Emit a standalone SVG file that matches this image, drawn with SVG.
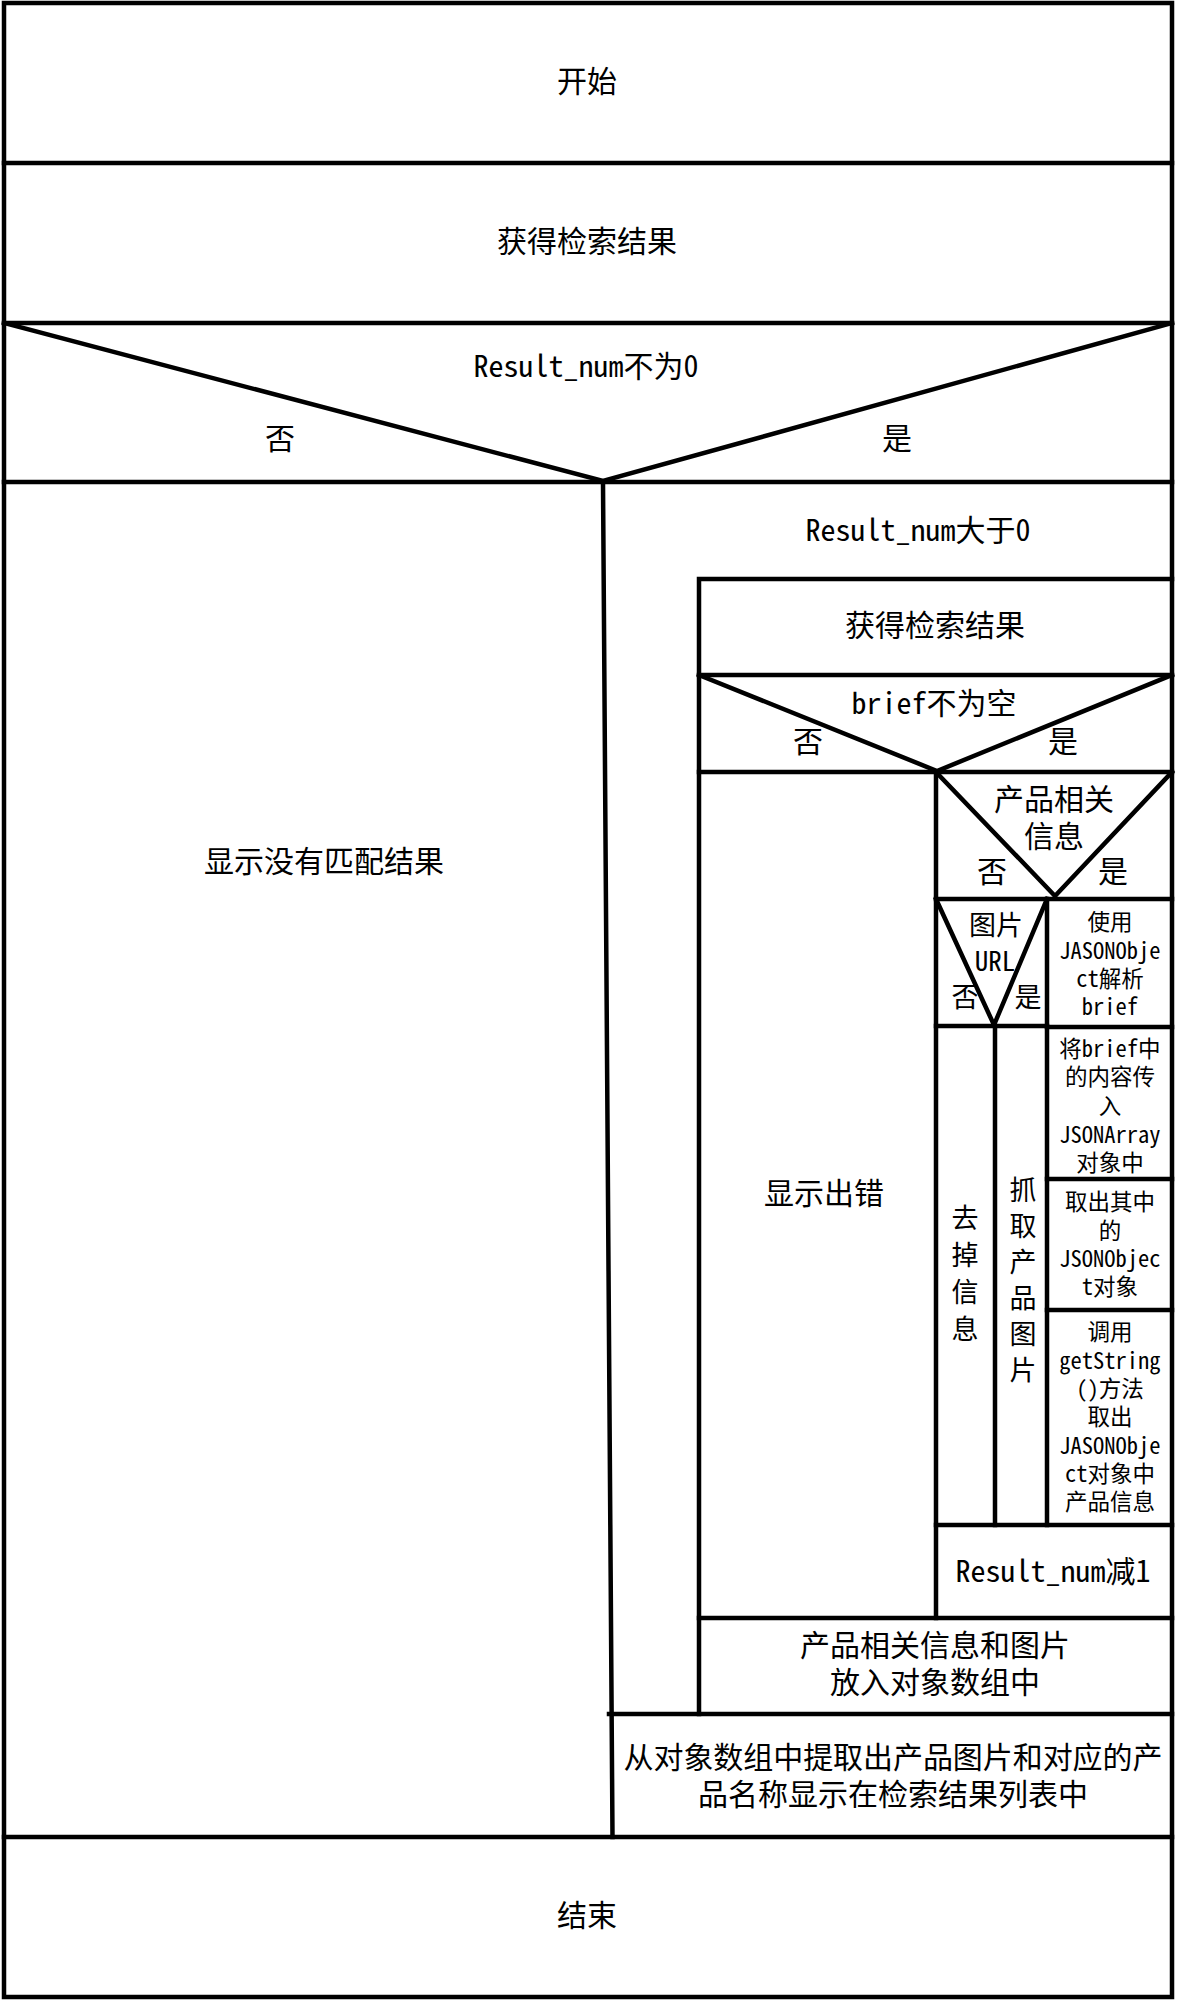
<svg xmlns="http://www.w3.org/2000/svg" width="1179" height="2001" viewBox="0 0 1179 2001">
<style>
.ln{stroke:#000;stroke-width:4.5;fill:none;stroke-linecap:square;stroke-linejoin:miter}
text{font-family:"Noto Sans Mono CJK SC","Noto Sans CJK SC",sans-serif;fill:#000;text-anchor:middle;dominant-baseline:central}
.f30{font-size:30px}
.f27{font-size:27px}
.f23{font-size:22.5px}
</style>
<rect x="0" y="0" width="1179" height="2001" fill="#fff"/>
<g id="frame">
<rect class="ln" x="4" y="3" width="1168" height="1994"/>
</g>
<g id="n-start">
<text class="f30" x="587" y="79">开始</text>
</g>
<g id="n-get1">
<line class="ln" x1="4" y1="163" x2="1172" y2="163"/>
<text class="f30" x="587" y="239">获得检索结果</text>
</g>
<g id="n-dec1">
<line class="ln" x1="4" y1="323" x2="1172" y2="323"/>
<polyline class="ln" points="4,323 603,481 1172,323"/>
<line class="ln" x1="4" y1="482" x2="1172" y2="482"/>
<text class="f30" x="586" y="364">Result_num不为0</text>
<text class="f30" x="280" y="436">否</text>
<text class="f30" x="897" y="436">是</text>
</g>
<g id="n-nomatch">
<line class="ln" x1="603" y1="482" x2="612.5" y2="1837"/>
<text class="f30" x="324" y="859">显示没有匹配结果</text>
</g>
<g id="n-loop">
<text class="f30" x="918" y="528">Result_num大于0</text>
<polyline class="ln" points="1172,579 699,579 699,1714"/>
<line class="ln" x1="609" y1="1714" x2="1172" y2="1714"/>
</g>
<g id="n-get2">
<line class="ln" x1="699" y1="675" x2="1172" y2="675"/>
<text class="f30" x="935" y="623">获得检索结果</text>
</g>
<g id="n-dec2">
<polyline class="ln" points="699,675 937,771 1172,675"/>
<line class="ln" x1="699" y1="772" x2="1172" y2="772"/>
<text class="f30" x="934" y="701">brief不为空</text>
<text class="f30" x="808" y="739">否</text>
<text class="f30" x="1063" y="739">是</text>
</g>
<g id="n-error">
<line class="ln" x1="936" y1="772" x2="936" y2="1618"/>
<text class="f30" x="824" y="1191">显示出错</text>
</g>
<g id="n-dec3">
<polyline class="ln" points="936,772 1055,896 1172,772"/>
<line class="ln" x1="936" y1="899" x2="1172" y2="899"/>
<text class="f30" x="1054" y="797">产品相关</text>
<text class="f30" x="1054" y="834">信息</text>
<text class="f30" x="992" y="869">否</text>
<text class="f30" x="1113" y="869">是</text>
</g>
<g id="n-dec4">
<line class="ln" x1="1047" y1="899" x2="1047" y2="1525"/>
<polyline class="ln" points="936,899 994,1025 1047,899"/>
<line class="ln" x1="936" y1="1026" x2="1047" y2="1026"/>
<text class="f27" x="996" y="923">图片</text>
<text class="f27" x="995" y="959">URL</text>
<text class="f27" x="965" y="995">否</text>
<text class="f27" x="1028" y="995">是</text>
</g>
<g id="n-remove">
<line class="ln" x1="995" y1="1026" x2="995" y2="1525"/>
<text class="f27" x="965" y="1216">去</text>
<text class="f27" x="965" y="1253">掉</text>
<text class="f27" x="965" y="1290">信</text>
<text class="f27" x="965" y="1327">息</text>
</g>
<g id="n-fetch">
<text class="f27" x="1023" y="1188">抓</text>
<text class="f27" x="1023" y="1224">取</text>
<text class="f27" x="1023" y="1260">产</text>
<text class="f27" x="1023" y="1296">品</text>
<text class="f27" x="1023" y="1332">图</text>
<text class="f27" x="1023" y="1368">片</text>
</g>
<g id="n-parse">
<text class="f23" x="1110" y="920">使用</text>
<text class="f23" x="1110" y="949">JASONObje</text>
<text class="f23" x="1110" y="977">ct解析</text>
<text class="f23" x="1110" y="1005">brief</text>
</g>
<g id="n-array">
<line class="ln" x1="1047" y1="1027" x2="1172" y2="1027"/>
<text class="f23" x="1110" y="1047">将brief中</text>
<text class="f23" x="1110" y="1075">的内容传</text>
<text class="f23" x="1110" y="1104">入</text>
<text class="f23" x="1110" y="1133">JSONArray</text>
<text class="f23" x="1110" y="1161">对象中</text>
</g>
<g id="n-object">
<line class="ln" x1="1047" y1="1179" x2="1172" y2="1179"/>
<text class="f23" x="1110" y="1200">取出其中</text>
<text class="f23" x="1110" y="1229">的</text>
<text class="f23" x="1110" y="1257">JSONObjec</text>
<text class="f23" x="1110" y="1285">t对象</text>
</g>
<g id="n-getstring">
<line class="ln" x1="1047" y1="1310" x2="1172" y2="1310"/>
<text class="f23" x="1110" y="1330">调用</text>
<text class="f23" x="1110" y="1359">getString</text>
<text class="f23" x="1110" y="1387">()方法</text>
<text class="f23" x="1110" y="1415">取出</text>
<text class="f23" x="1110" y="1444">JASONObje</text>
<text class="f23" x="1110" y="1472">ct对象中</text>
<text class="f23" x="1110" y="1500">产品信息</text>
</g>
<g id="n-dec">
<line class="ln" x1="936" y1="1525" x2="1172" y2="1525"/>
<text class="f30" x="1053" y="1569">Result_num减1</text>
</g>
<g id="n-store">
<line class="ln" x1="699" y1="1618" x2="1172" y2="1618"/>
<text class="f30" x="935" y="1643">产品相关信息和图片</text>
<text class="f30" x="935" y="1680">放入对象数组中</text>
</g>
<g id="n-show">
<text class="f30" x="893" y="1755" textLength="539" lengthAdjust="spacing">从对象数组中提取出产品图片和对应的产</text>
<text class="f30" x="893" y="1792">品名称显示在检索结果列表中</text>
</g>
<g id="n-end">
<line class="ln" x1="4" y1="1837" x2="1172" y2="1837"/>
<text class="f30" x="587" y="1913">结束</text>
</g>
<g id="connectors"></g>
</svg>
